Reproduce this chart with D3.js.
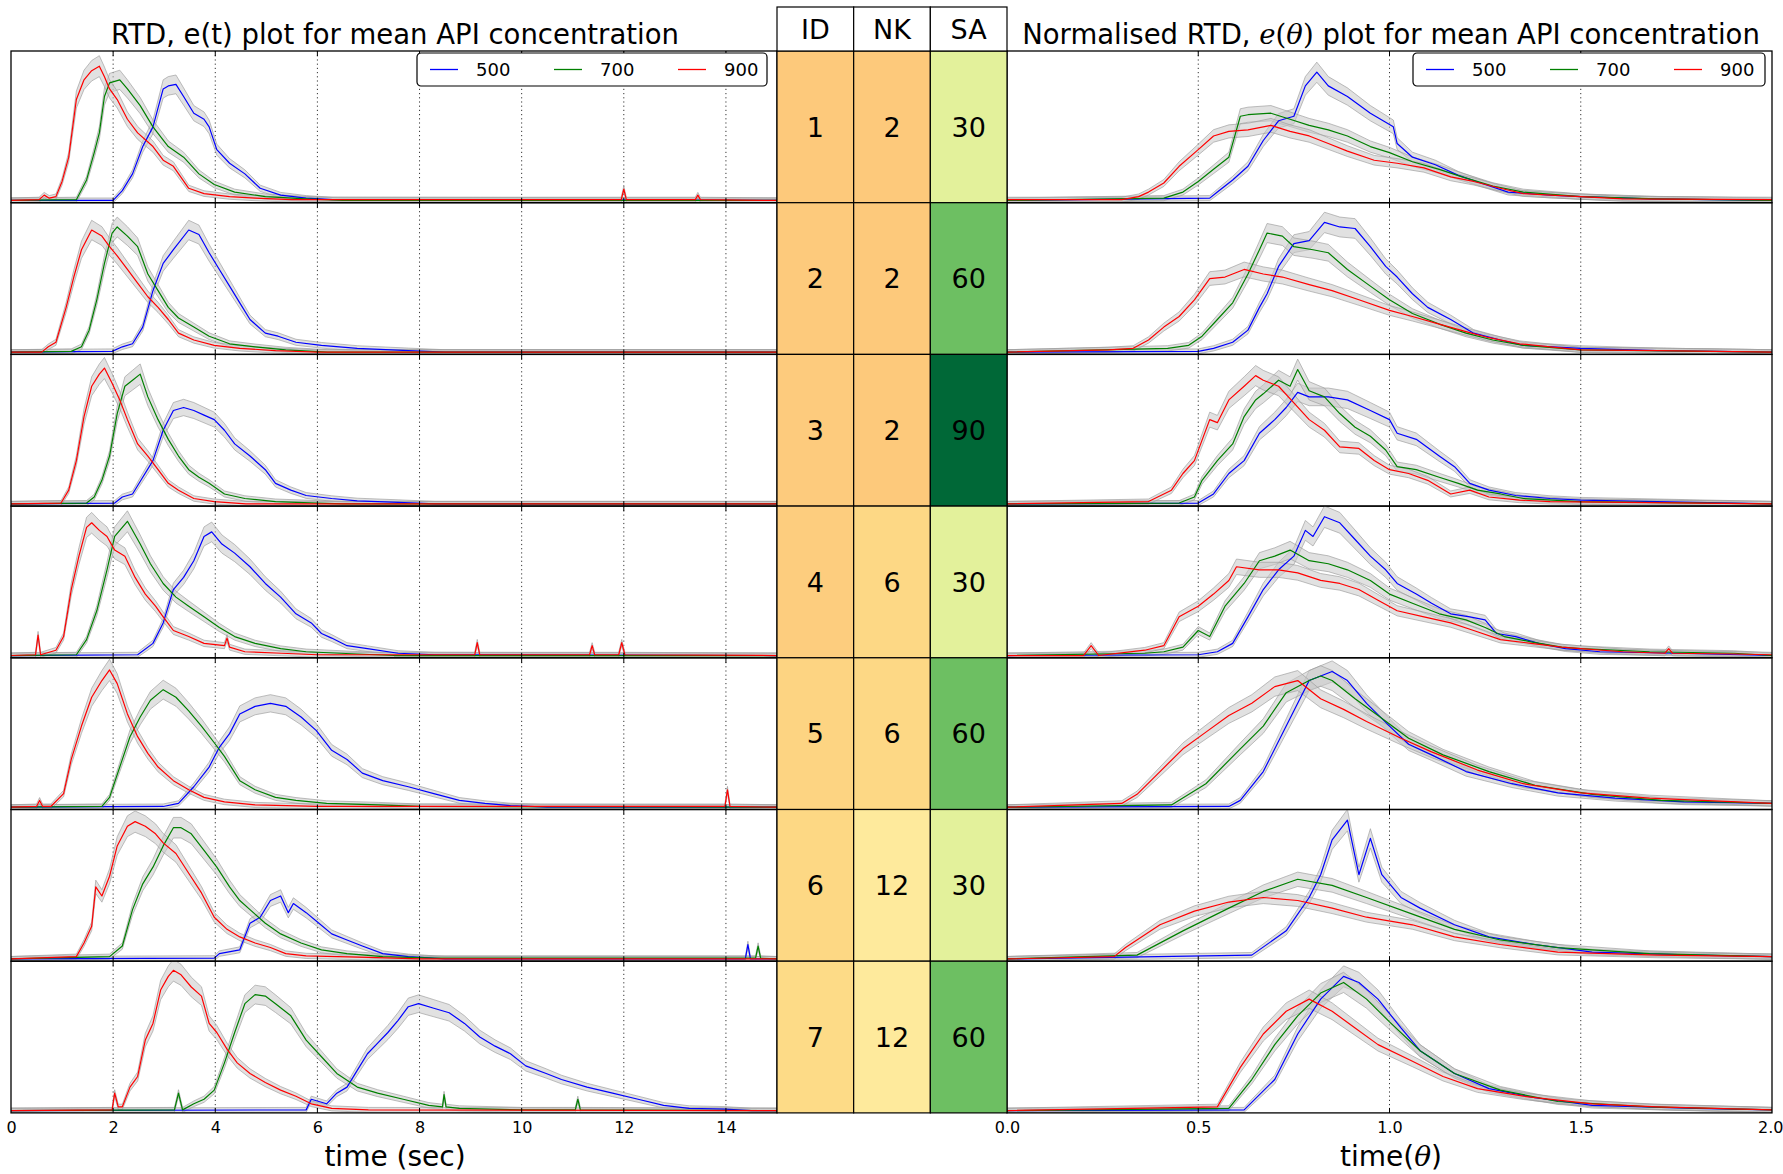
<!DOCTYPE html>
<html>
<head>
<meta charset="utf-8">
<script src="https://cdn.jsdelivr.net/npm/d3@7"></script>
<style>
body { margin: 0; background: #fff; }
svg { display: block; }
text { font-family: "DejaVu Sans", sans-serif; fill: #000; }
</style>
</head>
<body>
<div id="chart"></div>
<script>
// table columns
var ids = [1, 2, 3, 4, 5, 6, 7];
var nk = [2, 2, 2, 6, 6, 12, 12];
var sa = [30, 60, 90, 30, 60, 30, 60];
var speeds = ["500", "700", "900"];

var leftTicks = [0, 2, 4, 6, 8, 10, 12, 14];
var rightTicks = [0.0, 0.5, 1.0, 1.5, 2.0];

// e(t) : [time sec, % of panel height], one list per row
var et500 = [
  [[0,1.5],[2.0,1.5],[2.18,8],[2.38,19],[2.58,37],[2.78,50],[2.98,75],[3.08,77],[3.23,78],[3.38,70],[3.58,59],[3.78,55],[3.88,50],[4.03,35],[4.28,26],[4.58,19],[4.88,9.5],[5.28,5],[5.78,3],[6.3,2],[15,1.5]],
  [[0,1.5],[1.98,2],[2.18,5],[2.38,7],[2.58,18],[2.78,42],[2.98,60],[3.18,69],[3.48,82],[3.68,79],[3.88,67],[4.08,56],[4.28,45],[4.48,34],[4.68,23],[4.98,14],[5.23,12],[5.58,8],[6.08,6],[6.78,4],[7.78,2.5],[8.5,1.5],[15,1.5]],
  [[0,1.5],[2.03,2],[2.18,6],[2.38,8],[2.58,19],[2.78,30],[2.98,50],[3.18,63],[3.38,65],[3.58,63],[3.78,60],[3.98,57],[4.18,50],[4.38,41],[4.68,33],[4.98,24],[5.18,15],[5.48,10.5],[5.78,7],[6.28,5],[6.78,3.5],[7.58,2.5],[8.3,1.5],[15,1.5]],
  [[0,1.5],[2.48,2],[2.78,9.5],[2.98,23],[3.18,45],[3.38,53],[3.58,64],[3.78,80],[3.93,83],[4.13,75],[4.38,69],[4.68,60],[4.98,49],[5.28,40],[5.58,29],[5.88,23],[6.08,16],[6.28,13],[6.58,8],[6.98,6],[7.58,3],[8.3,2],[15,1.5]],
  [[0,1.5],[2.98,2],[3.28,4],[3.58,15],[3.88,28],[4.08,41],[4.28,50],[4.48,63],[4.78,68],[5.08,70],[5.38,68],[5.68,61],[5.98,52],[6.28,39],[6.58,33],[6.88,24],[7.28,19],[7.78,15],[8.28,10.5],[8.78,6],[9.28,4],[9.78,2.5],[10.5,1.5],[15,1.5]],
  [[0,1.5],[3.98,2],[4.08,5],[4.48,7.5],[4.68,25],[4.88,29],[5.08,40],[5.28,43],[5.43,32],[5.53,38],[5.78,32],[6.03,25],[6.28,18],[6.58,14],[6.88,10],[7.28,5],[7.78,3],[8.5,1.5],[14.38,1.5],[14.43,11],[14.48,1.5],[15,1.5]],
  [[0,1.5],[5.78,2],[5.88,9],[6.18,6],[6.38,13],[6.58,17],[6.78,28],[6.98,39],[7.18,46],[7.38,53],[7.58,61],[7.78,70],[7.98,72],[8.28,69],[8.58,66],[8.88,59],[9.18,50],[9.48,44],[9.78,39],[10.08,31],[10.48,26],[10.78,22],[11.28,17],[11.78,13],[12.28,9],[12.78,5],[13.28,3],[13.98,2.5],[14.5,1.5],[15,1.5]]
];
var et700 = [
  [[0,1.5],[1.28,2],[1.48,15],[1.63,33],[1.73,46],[1.83,70],[1.93,79],[2.13,81],[2.28,75],[2.53,64],[2.78,50],[3.08,37],[3.38,30],[3.68,19],[3.98,12],[4.38,7],[4.98,4],[5.78,2.5],[6.5,1.5],[15,1.5]],
  [[0,1.5],[1.18,2],[1.38,5],[1.53,16],[1.68,36],[1.83,60],[1.98,80],[2.08,84],[2.28,78],[2.48,71],[2.68,53],[2.88,42],[3.08,31],[3.28,24],[3.58,18],[3.88,12],[4.28,7],[4.78,5],[5.38,3],[6.2,1.5],[15,1.5]],
  [[0,1.5],[1.48,2],[1.63,6],[1.78,17],[1.93,33],[2.08,61],[2.23,79],[2.38,83],[2.53,87],[2.68,72],[2.88,57],[3.08,44],[3.28,33],[3.48,24],[3.68,19],[3.88,15],[4.18,8],[4.58,5],[5.18,3],[6.0,2],[6.5,1.5],[15,1.5]],
  [[0,1.5],[1.28,2],[1.48,12],[1.68,31],[1.88,58],[2.03,80],[2.28,90],[2.53,75],[2.73,62],[2.98,49],[3.23,40],[3.48,34],[3.78,27],[4.08,20],[4.38,14],[4.78,9.5],[5.28,6],[5.78,4],[6.78,2.5],[7.5,1.5],[15,1.5]],
  [[0,1.5],[1.78,2],[1.93,8],[2.13,28],[2.33,48],[2.53,61],[2.73,72],[2.98,79],[3.23,74],[3.48,65],[3.73,55],[3.98,44],[4.18,35],[4.48,19],[4.78,13],[5.18,8],[5.58,6],[6.18,4],[7.2,3],[8.0,2],[15,1.5]],
  [[0,1.5],[1.93,3],[2.18,10],[2.38,34],[2.58,51],[2.78,62],[2.98,76],[3.18,88],[3.33,88],[3.53,84],[3.78,73],[4.03,62],[4.28,49],[4.48,40],[4.68,34],[4.98,25],[5.28,18],[5.68,12],[6.08,7.5],[6.58,5],[7.28,3],[8.3,2],[14.58,2],[14.63,10],[14.68,2],[15,1.5]],
  [[0,1.5],[3.2,2],[3.28,13],[3.36,2],[3.58,6],[3.78,9],[3.98,15],[4.18,33],[4.38,53],[4.58,72],[4.78,78],[4.98,77],[5.18,72],[5.48,64],[5.78,48],[6.08,37],[6.38,26],[6.78,17],[7.18,13],[7.68,9],[8.18,5],[8.45,4],[8.48,12],[8.52,4],[8.78,3],[10.0,2],[11.05,2],[11.1,9],[11.15,2],[15,1.5]]
];
var et900 = [
  [[0,1.5],[0.55,2],[0.65,5],[0.75,3],[0.88,4],[1.0,14],[1.13,30],[1.28,68],[1.43,81],[1.58,87],[1.73,90],[1.83,83],[1.93,75],[2.08,68],[2.28,55],[2.48,46],[2.78,37],[2.98,28],[3.18,24],[3.48,9.5],[3.78,6],[4.28,4],[4.78,3],[5.5,2],[11.95,2],[12.0,9],[12.05,2],[13.4,2],[13.45,5],[13.5,2],[15,1.5]],
  [[0,1.5],[0.6,1.5],[0.73,5],[0.88,8],[1.08,31],[1.23,51],[1.38,69],[1.58,82],[1.78,78],[1.93,71],[2.08,65],[2.28,56],[2.48,47],[2.68,38],[2.88,31],[3.08,23],[3.28,14],[3.58,9.5],[3.98,6],[4.48,4],[5.18,2.5],[6.0,1.5],[15,1.5]],
  [[0,1.5],[0.98,2],[1.13,10.5],[1.28,30],[1.43,59],[1.58,79],[1.73,87],[1.83,91],[1.98,81],[2.13,70],[2.28,57],[2.48,41],[2.68,33],[2.88,24],[3.08,15],[3.28,10.5],[3.58,5],[3.98,3],[4.6,1.5],[15,1.5]],
  [[0,1.5],[0.48,2],[0.53,15],[0.58,2],[0.88,5],[1.03,14],[1.18,45],[1.33,67],[1.48,86],[1.58,89],[1.73,84],[1.88,80],[2.03,71],[2.23,67],[2.43,53],[2.63,42],[2.83,34],[2.98,27],[3.18,18],[3.48,14],[3.78,9.5],[4.18,8],[4.23,13],[4.28,7],[4.58,4],[5.3,3],[6.0,2],[9.08,2],[9.13,10],[9.18,2],[11.33,2],[11.38,8],[11.43,2],[11.9,2],[11.96,10],[12.02,2],[15,1.5]],
  [[0,1.5],[0.5,2],[0.56,6],[0.62,2],[0.78,2],[1.03,10.5],[1.18,33],[1.38,55],[1.58,74],[1.78,85],[1.93,92],[2.08,83],[2.28,63],[2.48,48],[2.68,37],[2.88,28],[3.18,19],[3.48,13],[3.78,8],[4.18,5],[4.78,3],[6.0,2],[13.98,2],[14.03,13],[14.08,2],[15,1.5]],
  [[0,1.5],[1.28,3],[1.43,12],[1.58,23],[1.66,49],[1.78,43],[1.93,56],[2.08,76],[2.28,89],[2.43,92],[2.63,89],[2.83,84],[2.98,78],[3.23,71],[3.48,58],[3.73,45],[3.98,29],[4.23,21],[4.48,16],[4.78,12],[5.08,9],[5.38,5],[5.78,3.5],[7.0,2.5],[8.0,1.5],[15,1.5]],
  [[0,1.5],[1.98,2],[2.03,13],[2.1,4],[2.18,4],[2.33,17],[2.48,24],[2.63,48],[2.78,59],[2.93,81],[3.08,90],[3.18,94],[3.33,91],[3.53,83],[3.73,77],[3.88,59],[4.03,53],[4.23,42],[4.43,33],[4.68,26],[4.98,20],[5.28,15],[5.58,11],[5.88,6],[6.28,3],[7.0,2],[15,1.5]]
];

// e(theta) : [theta, % of panel height], one list per row
var eth500 = [
  [[0,1.5],[0.53,3],[0.55,7],[0.59,15],[0.63,24],[0.67,41],[0.71,54],[0.75,57],[0.78,77],[0.81,86],[0.84,77],[0.89,70],[0.95,59],[0.99,53],[1.01,50],[1.02,39],[1.06,30],[1.12,25],[1.18,18],[1.25,12],[1.31,7],[1.42,5],[1.5,4],[1.68,2.5],[2,1.5]],
  [[0,1.5],[0.5,2],[0.54,4],[0.59,8],[0.63,16],[0.66,31],[0.68,40],[0.71,58],[0.75,73],[0.79,75],[0.83,87],[0.87,84],[0.91,83],[0.95,71],[0.99,58],[1.02,51],[1.06,40],[1.1,31],[1.16,23],[1.22,14],[1.29,9.5],[1.35,6],[1.5,4],[1.7,2.5],[2,1.5]],
  [[0,1.5],[0.5,2],[0.54,8],[0.58,21.5],[0.62,30],[0.66,48],[0.7,57],[0.73,65],[0.76,75],[0.79,72],[0.84,72],[0.89,70],[0.95,63],[1.0,57],[1.02,48],[1.07,44],[1.13,33],[1.17,26],[1.21,15],[1.26,10.5],[1.33,7],[1.42,5],[1.5,4],[1.7,3],[2,1.5]],
  [[0,1.5],[0.5,2],[0.55,4],[0.59,9.5],[0.63,27],[0.67,45],[0.71,58],[0.75,67],[0.78,84],[0.8,80],[0.83,93],[0.87,89],[0.91,78],[0.95,67],[0.99,58],[1.02,49],[1.07,42],[1.11,36],[1.16,29],[1.21,27],[1.25,25],[1.28,16],[1.33,14],[1.39,9.5],[1.46,6],[1.55,4],[1.75,3],[2,1.5]],
  [[0,1.5],[0.58,2],[0.61,6],[0.67,25],[0.73,55],[0.79,85],[0.85,91],[0.89,85],[0.94,70],[1.0,55],[1.05,43],[1.11,36],[1.2,25],[1.32,17],[1.44,11],[1.59,7.5],[1.77,5],[2,4]],
  [[0,1.5],[0.64,4],[0.73,20],[0.79,42],[0.82,57],[0.85,80],[0.89,93],[0.92,57],[0.95,81],[0.98,57],[1.03,42],[1.08,35],[1.17,24],[1.26,16],[1.38,11],[1.53,6],[1.8,4],[2,3]],
  [[0,1.5],[0.62,2],[0.7,22],[0.76,52],[0.82,75],[0.88,90],[0.92,86],[0.97,75],[1.03,56],[1.08,41],[1.17,26],[1.26,16],[1.38,10],[1.53,5],[1.8,3],[2,2]]
];
var eth700 = [
  [[0,1.5],[0.41,3],[0.46,7],[0.5,14],[0.54,22],[0.58,30],[0.61,57],[0.63,58],[0.69,59],[0.74,55],[0.79,51],[0.84,48],[0.89,44],[0.95,37],[1.0,33],[1.06,27],[1.13,22],[1.19,17],[1.27,11],[1.35,7],[1.5,4],[1.7,2.5],[2,1.5]],
  [[0,1.5],[0.42,4],[0.475,6],[0.51,12],[0.55,23],[0.59,34],[0.63,53],[0.66,69],[0.68,80],[0.72,78],[0.75,71],[0.8,69],[0.84,67],[0.89,56],[0.95,45],[1.0,36],[1.06,27],[1.13,20],[1.2,14],[1.27,9.5],[1.35,6],[1.5,3],[2,1.5]],
  [[0,1.5],[0.45,2],[0.49,6],[0.51,17],[0.55,30],[0.59,41],[0.62,59],[0.65,70],[0.67,74],[0.71,83],[0.74,79],[0.76,90],[0.79,76],[0.83,72],[0.87,61],[0.91,52],[0.95,46],[0.99,37],[1.02,26],[1.07,24],[1.13,19],[1.18,15],[1.23,10.5],[1.29,8],[1.35,5],[1.5,3],[2,1.5]],
  [[0,1.5],[0.36,3],[0.41,4],[0.46,7],[0.5,18],[0.53,14],[0.57,34],[0.62,49],[0.66,64],[0.7,67],[0.74,71],[0.79,64],[0.84,62],[0.89,58],[0.95,51],[1.0,42],[1.06,36],[1.13,29],[1.2,25],[1.25,20],[1.3,14],[1.37,10.5],[1.45,7],[1.5,6],[1.68,4],[1.9,3],[2,1.5]],
  [[0,1.5],[0.43,3],[0.52,17],[0.61,40],[0.67,55],[0.73,77],[0.79,85],[0.82,88],[0.85,85],[0.91,73],[0.97,62],[1.05,47],[1.14,36],[1.26,25],[1.38,16],[1.53,10],[1.71,6],[2,4]],
  [[0,1.5],[0.34,4],[0.46,20],[0.58,35],[0.67,46],[0.76,54],[0.85,50],[0.94,42],[1.06,31],[1.17,21],[1.29,14],[1.44,9],[1.68,5],[2,3]],
  [[0,1.5],[0.58,3],[0.64,22],[0.7,45],[0.76,64],[0.82,79],[0.88,86],[0.94,75],[1.0,60],[1.08,41],[1.17,26],[1.29,15],[1.44,7.5],[1.68,4],[2,2]]
];
var eth900 = [
  [[0,2],[0.3,2],[0.344,4],[0.37,7],[0.41,13],[0.45,24],[0.5,35],[0.54,44],[0.58,47],[0.63,48],[0.69,51],[0.74,47],[0.79,44],[0.84,39],[0.89,34],[0.96,28],[1.02,26],[1.09,23],[1.16,17],[1.22,14],[1.29,9.5],[1.35,6],[1.42,5],[1.5,4],[1.61,2.5],[2,2]],
  [[0,1.5],[0.266,3],[0.33,4],[0.37,9.5],[0.41,18],[0.45,25],[0.49,36],[0.53,50],[0.57,51],[0.62,56],[0.67,53],[0.72,51],[0.79,46],[0.85,42],[0.92,36],[1.0,29],[1.06,25],[1.13,20],[1.2,15],[1.26,11],[1.34,7],[1.42,5],[1.5,3],[1.7,2.5],[2,1.5]],
  [[0,1.5],[0.37,3],[0.43,10.5],[0.46,21.5],[0.49,30],[0.53,57],[0.55,55],[0.58,70],[0.62,79],[0.65,86],[0.67,83],[0.71,79],[0.75,68],[0.79,57],[0.83,50],[0.87,39],[0.92,38],[0.96,30],[1.0,24],[1.05,21.5],[1.1,17],[1.16,8],[1.21,10.5],[1.26,6],[1.34,4],[1.42,3],[2,1.5]],
  [[0,1.5],[0.2,1.5],[0.22,8],[0.24,1.5],[0.36,5],[0.41,8],[0.45,27],[0.5,34],[0.54,42],[0.58,51],[0.6,60],[0.66,58],[0.71,58],[0.76,56],[0.82,51],[0.87,49],[0.92,45],[0.97,38],[1.02,31],[1.09,27],[1.16,23],[1.22,18],[1.29,12],[1.37,9.5],[1.45,7],[1.5,6],[1.61,4],[1.72,3],[1.73,6],[1.74,3],[1.9,2.5],[2,2]],
  [[0,1.5],[0.3,4],[0.34,10],[0.4,25],[0.46,40],[0.52,51],[0.58,62],[0.64,70],[0.7,81],[0.76,85],[0.82,73],[0.88,66],[0.94,58],[1.03,47],[1.11,38],[1.23,26],[1.35,17],[1.5,11],[1.68,7.5],[2,4]],
  [[0,1.5],[0.28,3],[0.31,9],[0.4,24],[0.49,33],[0.58,39],[0.67,42],[0.76,40],[0.85,35],[0.94,29],[1.06,24],[1.17,16],[1.29,11],[1.44,6],[1.7,4],[2,3]],
  [[0,1.5],[0.55,4],[0.61,30],[0.67,52],[0.73,67],[0.79,75],[0.85,67],[0.91,56],[0.97,45],[1.06,34],[1.14,24],[1.23,16],[1.35,11],[1.53,6],[1.7,4],[2,2]]
];

var W = 1783, H = 1174;
var rowTop = 51, rowH = 151.7;

var svg = d3.select("#chart").append("svg")
  .attr("width", W)
  .attr("height", H);

var xL = d3.scaleLinear().domain([0, 15]).range([11, 777]);
var xR = d3.scaleLinear().domain([0, 2]).range([1007, 1772]);
var colX = d3.scaleBand().domain(["ID", "NK", "SA"]).range([777, 1007]);

var lineColor = d3.scaleOrdinal().domain(speeds).range(["#0000ff", "#008000", "#ff0000"]);
var idColor = d3.scaleOrdinal().domain(ids)
  .range(["#fdc97b", "#fdca7c", "#fdcb7d", "#fdcd7e", "#fdd482", "#fdd884", "#fddb87"]);
var nkColor = d3.scaleOrdinal().domain([2, 6, 12]).range(["#fdc97b", "#fdd885", "#feea9c"]);
var saColor = d3.scaleOrdinal().domain([30, 60, 90]).range(["#e3f19b", "#6dbf62", "#006837"]);

var leftData = [et500, et700, et900];
var rightData = [eth500, eth700, eth900];

// grey spread band around each mean curve
function pad(v) { return 1.5 + 0.06 * v; }

function drawPanel(i, x, seriesSets, ticks, clipId) {
  var y0 = rowTop + i * rowH;
  var y = d3.scaleLinear().domain([0, 100]).range([y0 + rowH, y0]);
  var xr = x.range();
  var inner = ticks.filter(function(d) { return d > x.domain()[0] && d < x.domain()[1]; });

  svg.append("clipPath").attr("id", clipId)
    .append("rect")
    .attr("x", xr[0]).attr("y", y0)
    .attr("width", xr[1] - xr[0]).attr("height", rowH);

  var g = svg.append("g").attr("clip-path", "url(#" + clipId + ")");

  // dotted grid
  g.selectAll(".grid").data(inner)
    .enter().append("line")
    .attr("x1", function(d) { return x(d); })
    .attr("x2", function(d) { return x(d); })
    .attr("y1", y0).attr("y2", y0 + rowH)
    .attr("stroke", "#000")
    .attr("stroke-width", 0.8)
    .attr("stroke-dasharray", "1.2,3");

  var band = d3.area()
    .x(function(d) { return x(d[0]); })
    .y0(function(d) { return y(Math.max(0, d[1] - pad(d[1]))); })
    .y1(function(d) { return y(d[1] + pad(d[1])); });

  var line = d3.line()
    .x(function(d) { return x(d[0]); })
    .y(function(d) { return y(d[1]); });

  speeds.forEach(function(s, k) {
    g.append("path")
      .attr("d", band(seriesSets[k][i]))
      .attr("fill", "#c8c8c8")
      .attr("fill-opacity", 0.55)
      .attr("stroke", "#9a9a9a")
      .attr("stroke-width", 0.8)
      .attr("stroke-opacity", 0.8);
  });
  speeds.forEach(function(s, k) {
    g.append("path")
      .attr("d", line(seriesSets[k][i]))
      .attr("fill", "none")
      .attr("stroke", lineColor(s))
      .attr("stroke-width", 1.2)
      .attr("stroke-linejoin", "round");
  });

  // small inward ticks top and bottom
  inner.forEach(function(d) {
    svg.append("line").attr("x1", x(d)).attr("x2", x(d))
      .attr("y1", y0).attr("y2", y0 + 5).attr("stroke", "#000");
    svg.append("line").attr("x1", x(d)).attr("x2", x(d))
      .attr("y1", y0 + rowH - 5).attr("y2", y0 + rowH).attr("stroke", "#000");
  });

  svg.append("rect")
    .attr("x", xr[0]).attr("y", y0)
    .attr("width", xr[1] - xr[0]).attr("height", rowH)
    .attr("fill", "none")
    .attr("stroke", "#000")
    .attr("stroke-width", 1.3);
}

ids.forEach(function(id, i) {
  drawPanel(i, xL, leftData, leftTicks, "cl" + i);
  drawPanel(i, xR, rightData, rightTicks, "cr" + i);

  // table cells
  var y0 = rowTop + i * rowH;
  var cells = [
    {col: "ID", val: id, fill: idColor(id)},
    {col: "NK", val: nk[i], fill: nkColor(nk[i])},
    {col: "SA", val: sa[i], fill: saColor(sa[i])}
  ];
  cells.forEach(function(c) {
    svg.append("rect")
      .attr("x", colX(c.col)).attr("y", y0)
      .attr("width", colX.bandwidth()).attr("height", rowH)
      .attr("fill", c.fill)
      .attr("stroke", "#000").attr("stroke-width", 1.2);
    svg.append("text")
      .attr("x", colX(c.col) + colX.bandwidth() / 2)
      .attr("y", y0 + rowH / 2)
      .attr("dy", "0.36em")
      .attr("text-anchor", "middle")
      .style("font-size", "27px")
      .text(c.val);
  });
});

// table header
colX.domain().forEach(function(c) {
  svg.append("rect")
    .attr("x", colX(c)).attr("y", 7)
    .attr("width", colX.bandwidth()).attr("height", rowTop - 7)
    .attr("fill", "#fff")
    .attr("stroke", "#000").attr("stroke-width", 1.2);
  svg.append("text")
    .attr("x", colX(c) + colX.bandwidth() / 2)
    .attr("y", 29)
    .attr("dy", "0.36em")
    .attr("text-anchor", "middle")
    .style("font-size", "27px")
    .text(c);
});

// x axes under the last row
var bottom = rowTop + 7 * rowH;
svg.append("g")
  .attr("transform", "translate(0," + bottom + ")")
  .call(d3.axisBottom(xL).tickValues(leftTicks).tickSize(0).tickPadding(9))
  .call(function(g) { g.select(".domain").remove(); })
  .selectAll("text")
  .style("font-size", "16px")
  .style("font-family", "DejaVu Sans");

svg.append("g")
  .attr("transform", "translate(0," + bottom + ")")
  .call(d3.axisBottom(xR).tickValues(rightTicks).tickFormat(d3.format(".1f")).tickSize(0).tickPadding(9))
  .call(function(g) { g.select(".domain").remove(); })
  .selectAll("text")
  .style("font-size", "16px")
  .style("font-family", "DejaVu Sans")
  .filter(function(d) { return d === 2; })
  .attr("text-anchor", "end")
  .attr("x", W - 1772);

// axis labels
svg.append("text")
  .attr("x", 395).attr("y", 1156).attr("dy", "0.36em")
  .attr("text-anchor", "middle")
  .style("font-size", "28px")
  .text("time (sec)");

var lab = svg.append("text")
  .attr("x", 1391).attr("y", 1156).attr("dy", "0.36em")
  .attr("text-anchor", "middle")
  .style("font-size", "28px");
lab.append("tspan").text("time(");
lab.append("tspan").style("font-family", "DejaVu Serif").style("font-style", "italic").text("θ");
lab.append("tspan").text(")");

// titles
svg.append("text")
  .attr("x", 395).attr("y", 44)
  .attr("text-anchor", "middle")
  .style("font-size", "27.5px")
  .text("RTD, e(t) plot for mean API concentration");

var t2 = svg.append("text")
  .attr("x", 1391).attr("y", 44)
  .attr("text-anchor", "middle")
  .style("font-size", "27.5px");
t2.append("tspan").text("Normalised RTD, ");
t2.append("tspan").style("font-family", "DejaVu Serif").style("font-style", "italic").text("e");
t2.append("tspan").style("font-family", "DejaVu Serif").text("(");
t2.append("tspan").style("font-family", "DejaVu Serif").style("font-style", "italic").text("θ");
t2.append("tspan").style("font-family", "DejaVu Serif").text(")");
t2.append("tspan").text(" plot for mean API concentration");

// legends
function legend(x0, y0, w) {
  var lg = svg.append("g").attr("transform", "translate(" + x0 + "," + y0 + ")");
  lg.append("rect")
    .attr("width", w).attr("height", 33)
    .attr("rx", 4)
    .attr("fill", "#fff")
    .attr("stroke", "#000")
    .attr("stroke-width", 1.2);
  speeds.forEach(function(s, k) {
    var ox = 13 + k * 124;
    lg.append("line")
      .attr("x1", ox).attr("x2", ox + 28)
      .attr("y1", 16.5).attr("y2", 16.5)
      .attr("stroke", lineColor(s)).attr("stroke-width", 1.3);
    lg.append("text")
      .attr("x", ox + 46).attr("y", 16.5).attr("dy", "0.36em")
      .style("font-size", "18px")
      .text(s);
  });
}
legend(417, 53, 350);
legend(1413, 53, 352);
</script>
</body>
</html>
